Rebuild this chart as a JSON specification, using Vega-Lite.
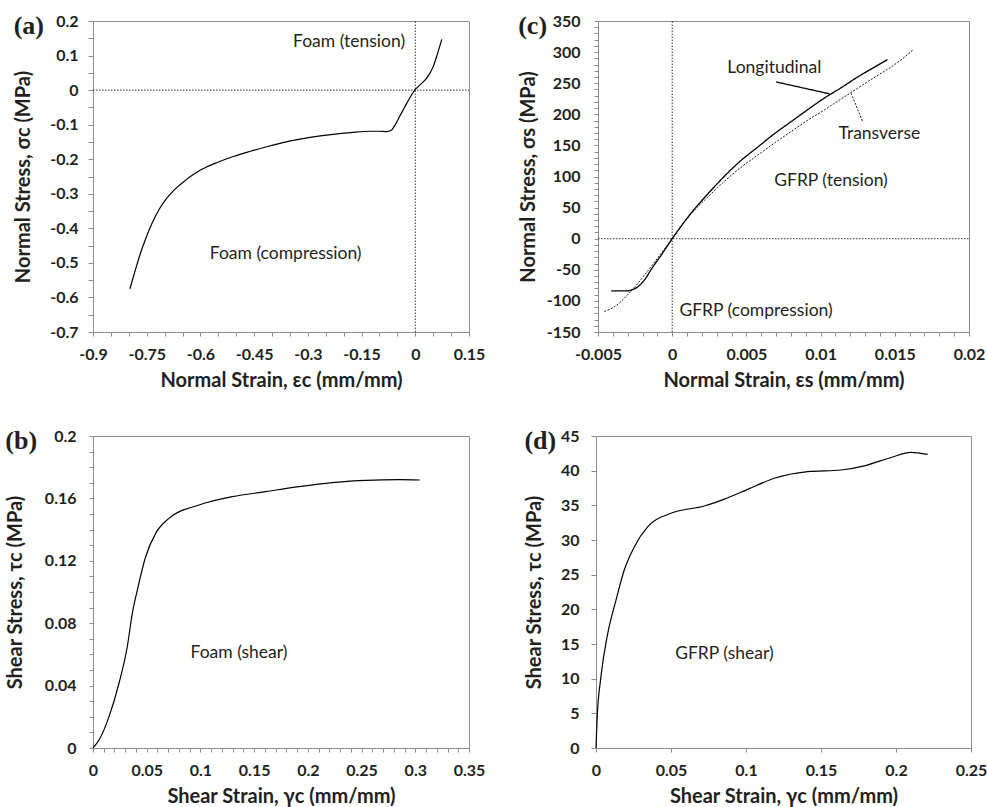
{
  "$schema": "https://vega.github.io/schema/vega-lite/v6.json",
  "padding": {"left": 4, "top": 12, "right": 0, "bottom": 0},
  "background": "white",
  "config": {
    "font": "Lato",
    "view": {"stroke": "#8c8c8c", "strokeWidth": 1},
    "axis": {
      "grid": false,
      "domainColor": "#8c8c8c",
      "tickColor": "#8c8c8c",
      "tickSize": 4,
      "labelFont": "Lato",
      "labelFontWeight": "bold",
      "labelFontSize": 16,
      "labelColor": "#231f20",
      "titleFont": "Lato",
      "titleFontWeight": "bold",
      "titleFontSize": 20,
      "titleColor": "#231f20",
      "labelOverlap": false,
      "labelFlush": false
    },
    "axisX": {"labelPadding": 10, "titlePadding": 8},
    "title": {"font": "Liberation Serif", "fontSize": 26, "fontWeight": "bold", "color": "#231f20", "anchor": "start", "frame": "bounds", "baseline": "alphabetic", "offset": -26},
    "text": {"font": "Lato", "fontSize": 17.5, "color": "#231f20"}
  },
  "datasets": {
    "a": [
      {"x": -0.797, "y": -0.575}, {"x": -0.783, "y": -0.525}, {"x": -0.769, "y": -0.477},
      {"x": -0.755, "y": -0.436}, {"x": -0.741, "y": -0.399}, {"x": -0.727, "y": -0.368},
      {"x": -0.713, "y": -0.341}, {"x": -0.699, "y": -0.32}, {"x": -0.685, "y": -0.302},
      {"x": -0.664, "y": -0.28}, {"x": -0.643, "y": -0.262}, {"x": -0.622, "y": -0.246},
      {"x": -0.601, "y": -0.232}, {"x": -0.55, "y": -0.208}, {"x": -0.508, "y": -0.192},
      {"x": -0.46, "y": -0.177}, {"x": -0.415, "y": -0.164}, {"x": -0.37, "y": -0.152},
      {"x": -0.322, "y": -0.142}, {"x": -0.275, "y": -0.134}, {"x": -0.229, "y": -0.128},
      {"x": -0.18, "y": -0.123}, {"x": -0.1265, "y": -0.119}, {"x": -0.1, "y": -0.119},
      {"x": -0.08, "y": -0.12}, {"x": -0.068, "y": -0.117}, {"x": -0.057, "y": -0.102},
      {"x": -0.043, "y": -0.075}, {"x": -0.029, "y": -0.048}, {"x": -0.015, "y": -0.022},
      {"x": 0, "y": 0.002}, {"x": 0.013, "y": 0.015}, {"x": 0.027, "y": 0.029},
      {"x": 0.04, "y": 0.047}, {"x": 0.05, "y": 0.068}, {"x": 0.062, "y": 0.105},
      {"x": 0.074, "y": 0.147}
    ],
    "aZero": [
      {"x": -0.9, "x2": 0.15, "y": 0, "y2": 0},
      {"x": 0, "x2": 0, "y": -0.7, "y2": 0.2}
    ],
    "aText": [
      {"x": -0.185, "y": 0.14, "label": "Foam (tension)"},
      {"x": -0.362, "y": -0.474, "label": "Foam (compression)"}
    ],
    "c": [
      {"series": "Longitudinal", "x": -0.0041, "y": -84}, {"series": "Longitudinal", "x": -0.0031, "y": -84},
      {"series": "Longitudinal", "x": -0.0027, "y": -82}, {"series": "Longitudinal", "x": -0.0023, "y": -77},
      {"series": "Longitudinal", "x": -0.0018, "y": -64}, {"series": "Longitudinal", "x": -0.00143, "y": -50},
      {"series": "Longitudinal", "x": -0.0007, "y": -25}, {"series": "Longitudinal", "x": 0, "y": 0},
      {"series": "Longitudinal", "x": 0.00127, "y": 41}, {"series": "Longitudinal", "x": 0.0024, "y": 72},
      {"series": "Longitudinal", "x": 0.0035, "y": 100}, {"series": "Longitudinal", "x": 0.0046, "y": 125},
      {"series": "Longitudinal", "x": 0.0058, "y": 148}, {"series": "Longitudinal", "x": 0.0069, "y": 169},
      {"series": "Longitudinal", "x": 0.008, "y": 188}, {"series": "Longitudinal", "x": 0.0091, "y": 207},
      {"series": "Longitudinal", "x": 0.01025, "y": 226}, {"series": "Longitudinal", "x": 0.0114, "y": 243},
      {"series": "Longitudinal", "x": 0.0125, "y": 260}, {"series": "Longitudinal", "x": 0.0135, "y": 274},
      {"series": "Longitudinal", "x": 0.0145, "y": 288},
      {"series": "Transverse", "x": -0.00457, "y": -117}, {"series": "Transverse", "x": -0.004, "y": -111},
      {"series": "Transverse", "x": -0.00345, "y": -101}, {"series": "Transverse", "x": -0.003, "y": -90},
      {"series": "Transverse", "x": -0.0025, "y": -77}, {"series": "Transverse", "x": -0.00143, "y": -45},
      {"series": "Transverse", "x": -0.0007, "y": -22}, {"series": "Transverse", "x": 0, "y": 0},
      {"series": "Transverse", "x": 0.00127, "y": 40}, {"series": "Transverse", "x": 0.0024, "y": 67},
      {"series": "Transverse", "x": 0.0035, "y": 92}, {"series": "Transverse", "x": 0.0046, "y": 114},
      {"series": "Transverse", "x": 0.0058, "y": 135}, {"series": "Transverse", "x": 0.0069, "y": 154},
      {"series": "Transverse", "x": 0.008, "y": 172}, {"series": "Transverse", "x": 0.0091, "y": 190},
      {"series": "Transverse", "x": 0.01025, "y": 207}, {"series": "Transverse", "x": 0.0114, "y": 225},
      {"series": "Transverse", "x": 0.0125, "y": 242}, {"series": "Transverse", "x": 0.0136, "y": 259},
      {"series": "Transverse", "x": 0.01474, "y": 276}, {"series": "Transverse", "x": 0.0155, "y": 289},
      {"series": "Transverse", "x": 0.0162, "y": 303}
    ],
    "cLeaders": [
      {"series": "Longitudinal", "x": 0.007, "y": 252, "x2": 0.01059, "y2": 233},
      {"series": "Transverse", "x": 0.01205, "y": 234, "x2": 0.01284, "y2": 188}
    ],
    "cZero": [
      {"x": -0.005, "x2": 0.02, "y": 0, "y2": 0},
      {"x": 0, "x2": 0, "y": -150, "y2": 350}
    ],
    "cText": [
      {"x": 0.00688, "y": 275, "label": "Longitudinal"},
      {"x": 0.01396, "y": 168, "label": "Transverse"},
      {"x": 0.0107, "y": 92, "label": "GFRP (tension)"},
      {"x": 0.00565, "y": -116, "label": "GFRP (compression)"}
    ],
    "b": [
      {"x": 0, "y": 0}, {"x": 0.0056, "y": 0.0051}, {"x": 0.0149, "y": 0.0201},
      {"x": 0.0242, "y": 0.0415}, {"x": 0.0319, "y": 0.0649}, {"x": 0.0366, "y": 0.0863},
      {"x": 0.0413, "y": 0.1013}, {"x": 0.049, "y": 0.1226}, {"x": 0.0583, "y": 0.1376},
      {"x": 0.0707, "y": 0.1472}, {"x": 0.0987, "y": 0.1558}, {"x": 0.1297, "y": 0.1611},
      {"x": 0.1607, "y": 0.1643}, {"x": 0.1918, "y": 0.1675}, {"x": 0.2228, "y": 0.1701},
      {"x": 0.2538, "y": 0.1716}, {"x": 0.2848, "y": 0.172}, {"x": 0.3041, "y": 0.1718}
    ],
    "bText": [{"x": 0.1359, "y": 0.0607, "label": "Foam (shear)"}],
    "d": [
      {"x": 0, "y": 0}, {"x": 0.0007, "y": 4.04}, {"x": 0.0033, "y": 10.3},
      {"x": 0.0078, "y": 16.5}, {"x": 0.0133, "y": 21.3}, {"x": 0.0189, "y": 25.7},
      {"x": 0.0255, "y": 29.0}, {"x": 0.0344, "y": 31.9}, {"x": 0.05, "y": 33.85},
      {"x": 0.0722, "y": 34.9}, {"x": 0.0856, "y": 35.9}, {"x": 0.1011, "y": 37.3},
      {"x": 0.1189, "y": 38.9}, {"x": 0.1411, "y": 39.85}, {"x": 0.1633, "y": 40.1},
      {"x": 0.1789, "y": 40.7}, {"x": 0.1967, "y": 41.9}, {"x": 0.21, "y": 42.65},
      {"x": 0.2211, "y": 42.36}
    ],
    "dText": [{"x": 0.0856, "y": 13.56, "label": "GFRP (shear)"}]
  },
  "spacing": 36,
  "vconcat": [
    {
      "spacing": 31,
      "hconcat": [
        {
          "width": 376,
          "height": 311,
          "title": {"text": "(a)"},
          "encoding": {
            "x": {"field": "x", "type": "quantitative", "title": "Normal Strain, εc (mm/mm)",
              "scale": {"domain": [-0.9, 0.15], "nice": false, "zero": false},
              "axis": {"values": [-0.9,-0.85,-0.8,-0.75,-0.7,-0.65,-0.6,-0.55,-0.5,-0.45,-0.4,-0.35,-0.3,-0.25,-0.2,-0.15,-0.1,-0.05,0,0.05,0.1,0.15],
                "labelExpr": "abs(datum.value/0.15 - round(datum.value/0.15)) < 0.001 ? '' + round(datum.value*100)/100 : ''"}},
            "y": {"field": "y", "type": "quantitative", "title": "Normal Stress, σc (MPa)",
              "scale": {"domain": [-0.7, 0.2], "nice": false, "zero": false},
              "axis": {"values": [-0.7,-0.65,-0.6,-0.55,-0.5,-0.45,-0.4,-0.35,-0.3,-0.25,-0.2,-0.15,-0.1,-0.05,0,0.05,0.1,0.15,0.2],
                "labelExpr": "abs(datum.value*10 - round(datum.value*10)) < 0.001 ? '' + round(datum.value*10)/10 : ''",
                "tickSize": 5, "labelPadding": 10, "titlePadding": 16}}
          },
          "layer": [
            {
              "data": {"name": "aZero"},
              "mark": {"type": "rule", "color": "black", "strokeWidth": 0.8, "strokeDash": [1.5, 1.5]},
              "encoding": {"x2": {"field": "x2"}, "y2": {"field": "y2"}}
            },
            {
              "data": {"name": "a"},
              "mark": {"type": "line", "interpolate": "monotone", "color": "black", "strokeWidth": 1.2}
            },
            {
              "data": {"name": "aText"},
              "mark": {"type": "text"},
              "encoding": {"text": {"field": "label"}}
            }
          ]
        },
        {
          "width": 371,
          "height": 311,
          "title": {"text": "(c)"},
          "encoding": {
            "x": {"field": "x", "type": "quantitative", "title": "Normal Strain, εs (mm/mm)",
              "scale": {"domain": [-0.005, 0.02], "nice": false, "zero": false},
              "axis": {"values": [-0.005,-0.004,-0.003,-0.002,-0.001,0,0.001,0.002,0.003,0.004,0.005,0.006,0.007,0.008,0.009,0.01,0.011,0.012,0.013,0.014,0.015,0.016,0.017,0.018,0.019,0.02],
                "labelExpr": "abs(datum.value/0.005 - round(datum.value/0.005)) < 0.001 ? '' + round(datum.value*1000)/1000 : ''"}},
            "y": {"field": "y", "type": "quantitative", "title": "Normal Stress, σs (MPa)",
              "scale": {"domain": [-150, 350], "nice": false, "zero": false},
              "axis": {"values": [-150,-140,-130,-120,-110,-100,-90,-80,-70,-60,-50,-40,-30,-20,-10,0,10,20,30,40,50,60,70,80,90,100,110,120,130,140,150,160,170,180,190,200,210,220,230,240,250,260,270,280,290,300,310,320,330,340,350],
                "labelExpr": "abs(datum.value % 50) < 0.001 ? '' + datum.value : ''",
                "labelPadding": 14, "titlePadding": 8}}
          },
          "layer": [
            {
              "data": {"name": "cZero"},
              "mark": {"type": "rule", "color": "black", "strokeWidth": 0.8, "strokeDash": [1.5, 1.5]},
              "encoding": {"x2": {"field": "x2"}, "y2": {"field": "y2"}}
            },
            {
              "data": {"name": "c"},
              "mark": {"type": "line", "interpolate": "monotone", "color": "black"},
              "encoding": {
                "strokeDash": {"field": "series", "type": "nominal", "legend": null,
                  "scale": {"domain": ["Longitudinal", "Transverse"], "range": [[1, 0], [2, 1.5]]}},
                "strokeWidth": {"field": "series", "type": "nominal", "legend": null,
                  "scale": {"domain": ["Longitudinal", "Transverse"], "range": [1.3, 0.9]}}
              }
            },
            {
              "data": {"name": "cLeaders"},
              "mark": {"type": "rule", "color": "black"},
              "encoding": {
                "x2": {"field": "x2"},
                "y2": {"field": "y2"},
                "strokeDash": {"field": "series", "type": "nominal", "legend": null},
                "strokeWidth": {"field": "series", "type": "nominal", "legend": null}
              }
            },
            {
              "data": {"name": "cText"},
              "mark": {"type": "text"},
              "encoding": {"text": {"field": "label"}}
            }
          ]
        }
      ]
    },
    {
      "spacing": 37,
      "hconcat": [
        {
          "width": 376,
          "height": 312,
          "title": {"text": "(b)"},
          "encoding": {
            "x": {"field": "x", "type": "quantitative", "title": "Shear Strain, γc (mm/mm)",
              "scale": {"domain": [0, 0.35], "nice": false, "zero": false},
              "axis": {"values": [0,0.01,0.02,0.03,0.04,0.05,0.06,0.07,0.08,0.09,0.1,0.11,0.12,0.13,0.14,0.15,0.16,0.17,0.18,0.19,0.2,0.21,0.22,0.23,0.24,0.25,0.26,0.27,0.28,0.29,0.3,0.31,0.32,0.33,0.34,0.35],
                "labelExpr": "abs(datum.value*20 - round(datum.value*20)) < 0.001 ? '' + round(datum.value*100)/100 : ''"}},
            "y": {"field": "y", "type": "quantitative", "title": "Shear Stress, τc (MPa)",
              "scale": {"domain": [0, 0.2], "nice": false, "zero": false},
              "axis": {"values": [0,0.01,0.02,0.03,0.04,0.05,0.06,0.07,0.08,0.09,0.1,0.11,0.12,0.13,0.14,0.15,0.16,0.17,0.18,0.19,0.2],
                "labelExpr": "abs(datum.value*25 - round(datum.value*25)) < 0.001 ? '' + round(datum.value*100)/100 : ''",
                "labelPadding": 13, "titlePadding": 19}}
          },
          "layer": [
            {
              "data": {"name": "b"},
              "mark": {"type": "line", "interpolate": "monotone", "color": "black", "strokeWidth": 1.2}
            },
            {
              "data": {"name": "bText"},
              "mark": {"type": "text"},
              "encoding": {"text": {"field": "label"}}
            }
          ]
        },
        {
          "width": 375,
          "height": 312,
          "title": {"text": "(d)"},
          "encoding": {
            "x": {"field": "x", "type": "quantitative", "title": "Shear Strain, γc (mm/mm)",
              "scale": {"domain": [0, 0.25], "nice": false, "zero": false},
              "axis": {"values": [0,0.05,0.1,0.15,0.2,0.25],
                "labelExpr": "'' + round(datum.value*100)/100"}},
            "y": {"field": "y", "type": "quantitative", "title": "Shear Stress, τc (MPa)",
              "scale": {"domain": [0, 45], "nice": false, "zero": false},
              "axis": {"values": [0,5,10,15,20,25,30,35,40,45],
                "labelExpr": "'' + datum.value",
                "tickSize": 5, "labelPadding": 12, "titlePadding": 16}}
          },
          "layer": [
            {
              "data": {"name": "d"},
              "mark": {"type": "line", "interpolate": "monotone", "color": "black", "strokeWidth": 1.2}
            },
            {
              "data": {"name": "dText"},
              "mark": {"type": "text"},
              "encoding": {"text": {"field": "label"}}
            }
          ]
        }
      ]
    }
  ]
}
